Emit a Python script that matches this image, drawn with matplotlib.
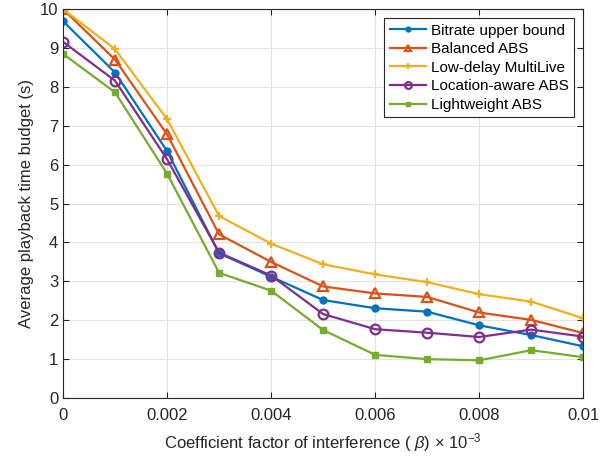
# -*- coding: utf-8 -*-

import matplotlib
matplotlib.use('Agg')
import matplotlib.pyplot as plt

plt.rcParams['font.family'] = ['Liberation Sans', 'DejaVu Sans']
plt.rcParams['mathtext.fontset'] = 'custom'
plt.rcParams['mathtext.rm'] = 'Liberation Sans'
plt.rcParams['mathtext.it'] = 'Liberation Sans:italic'

#%% data
beta = [0, 0.001, 0.002, 0.003, 0.004, 0.005, 0.006, 0.007, 0.008, 0.009, 0.01]

upper_bound = [9.69, 8.37, 6.35, 3.72, 3.12, 2.52, 2.31, 2.22, 1.87, 1.62, 1.33]
balanced    = [10.0, 8.70, 6.78, 4.21, 3.50, 2.87, 2.69, 2.60, 2.20, 2.01, 1.67]
low_delay   = [10.0, 8.97, 7.17, 4.68, 3.97, 3.44, 3.18, 2.98, 2.67, 2.48, 2.05]
loc_aware   = [9.16, 8.16, 6.14, 3.74, 3.15, 2.16, 1.77, 1.68, 1.57, 1.76, 1.58]
lightweight = [8.85, 7.86, 5.77, 3.22, 2.76, 1.75, 1.11, 1.00, 0.97, 1.23, 1.05]

xticks = [0, 0.002, 0.004, 0.006, 0.008, 0.01]
xtick_labels = ['0', '0.002', '0.004', '0.006', '0.008', '0.01']

#%% plot
fig = plt.figure(figsize=(6.12, 4.57), dpi=100)
ax = fig.add_axes([0.103, 0.129, 0.850, 0.851])

ax.plot(beta, upper_bound, '-o', color='#0072BD', lw=1.6, ms=5,
        label='Bitrate upper bound')
ax.plot(beta, balanced, '-^', color='#D95319', lw=1.6, ms=7, mew=1.6,
        mfc='none', label='Balanced ABS')
ax.plot(beta, low_delay, '-+', color='#EDB120', lw=1.6, ms=6, mew=1.6,
        label='Low-delay MultiLive')
ax.plot(beta, loc_aware, '-o', color='#7E2F8E', lw=1.6, ms=7, mew=1.6,
        mfc='none', label='Location-aware ABS')
ax.plot(beta, lightweight, '-s', color='#77AC30', lw=1.6, ms=5,
        label='Lightweight ABS')

ax.set_xlim(0, 0.01)
ax.set_ylim(0, 10)
ax.set_xticks(xticks)
ax.set_xticklabels(xtick_labels)
ax.set_yticks(range(0, 11))
ax.grid(True, color='#e3e3e3', lw=0.8)
ax.set_axisbelow(True)
ax.tick_params(direction='in', top=True, right=True, labelsize=12,
               colors='#262626', length=4)
ax.tick_params(axis='x', pad=7)
for s in ax.spines.values():
    s.set_color('#262626')
    s.set_linewidth(0.8)

ax.set_xlabel(r'Coefficient factor of interference ( $\beta$) $\times$ 10$^{-3}$',
              fontsize=12, color='#262626', labelpad=6)
ax.set_ylabel('Average playback time budget (s)', fontsize=12, color='#262626')

leg = ax.legend(loc='upper right', fontsize=11, fancybox=False,
                edgecolor='#262626', framealpha=1, borderpad=0.35,
                labelspacing=0.3, handlelength=2.4, handletextpad=0.3,
                borderaxespad=0.6, markerscale=0.7)
leg.get_frame().set_linewidth(0.8)

plt.savefig('out.png')
